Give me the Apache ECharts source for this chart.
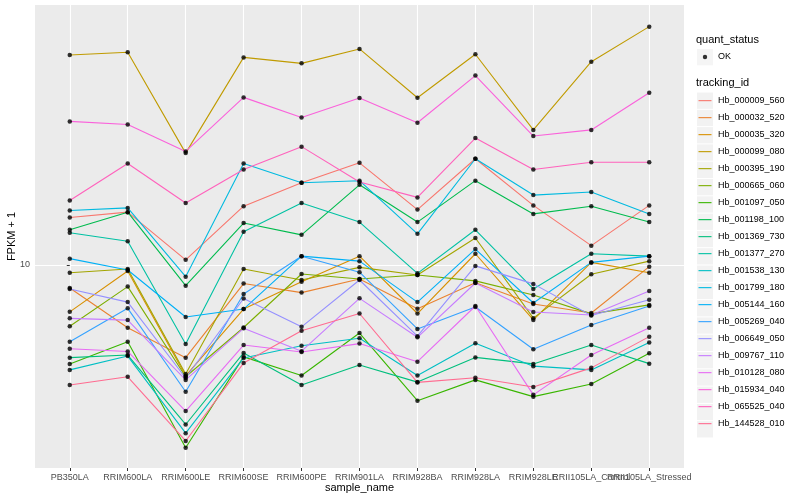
<!DOCTYPE html>
<html><head><meta charset="utf-8">
<script src="https://cdn.jsdelivr.net/npm/echarts@6/dist/echarts.min.js"></script>
<style>html,body{margin:0;padding:0;background:#fff}#c{width:800px;height:500px}</style>
</head><body><div id="c"></div>
<script>
const categories = ['PB350LA','RRIM600LA','RRIM600LE','RRIM600SE','RRIM600PE','RRIM901LA','RRIM928BA','RRIM928LA','RRIM928LE','RRII105LA_Control','RRII105LA_Stressed'];
const yTicks = [10];

const Hb_000009_560 = [14.4, 15.0, 10.4, 15.7, 18.8, 21.9, 15.3, 22.6, 15.8, 11.6, 15.8];
const Hb_000032_520 = [8.38, 6.18, 4.91, 8.67, 8.09, 8.98, 7.15, 8.73, 7.41, 6.92, 9.87];
const Hb_000035_320 = [6.98, 9.55, 4.27, 7.13, 8.79, 10.7, 6.89, 10.9, 6.56, 10.2, 9.42];
const Hb_000099_080 = [50.1, 51.2, 23.6, 49.2, 47.0, 52.5, 36.1, 50.4, 28.2, 47.6, 62.3];
const Hb_000395_190 = [9.42, 9.70, 4.33, 9.70, 8.91, 9.82, 9.26, 12.3, 6.65, 9.31, 10.3];
const Hb_000665_060 = [6.25, 8.47, 4.24, 6.19, 9.33, 8.98, 9.26, 8.85, 7.94, 6.87, 7.36];
const Hb_001097_050 = [4.68, 5.55, 2.46, 4.94, 4.28, 5.93, 3.53, 4.14, 3.64, 4.01, 5.08];
const Hb_001198_100 = [13.1, 15.0, 8.53, 13.8, 12.6, 18.5, 13.9, 19.1, 14.8, 15.7, 13.9];
const Hb_001369_730 = [4.91, 5.01, 2.94, 5.09, 3.98, 4.64, 4.07, 4.92, 4.68, 5.41, 4.69];
const Hb_001377_270 = [12.8, 12.0, 5.45, 12.9, 16.1, 13.9, 9.38, 13.1, 8.32, 10.9, 10.7];
const Hb_001538_130 = [4.47, 4.97, 2.75, 4.90, 5.38, 5.70, 4.28, 5.48, 4.60, 4.47, 5.52];
const Hb_001799_180 = [15.2, 15.5, 9.14, 21.8, 18.8, 19.1, 12.7, 22.6, 17.1, 17.5, 14.8];
const Hb_005144_160 = [10.5, 9.62, 6.71, 7.13, 10.7, 10.3, 7.52, 11.3, 7.47, 10.2, 10.7];
const Hb_005269_040 = [5.55, 7.17, 3.78, 8.00, 10.7, 9.46, 6.12, 7.24, 5.24, 6.31, 7.30];
const Hb_006649_050 = [8.32, 7.52, 4.20, 7.73, 6.22, 8.91, 5.79, 9.93, 8.65, 6.79, 7.66];
const Hb_009767_110 = [6.64, 6.55, 4.14, 6.15, 5.16, 7.74, 5.74, 8.71, 6.97, 6.81, 8.19];
const Hb_010128_080 = [5.26, 5.15, 3.26, 5.41, 5.13, 5.47, 4.76, 7.30, 3.69, 5.01, 6.18];
const Hb_015934_040 = [30.1, 29.4, 23.9, 36.2, 31.0, 36.0, 29.8, 42.8, 26.9, 28.2, 37.5];
const Hb_065525_040 = [16.4, 21.8, 16.1, 20.8, 24.8, 18.9, 16.8, 26.5, 20.8, 22.0, 22.0];
const Hb_144528_010 = [3.98, 4.24, 2.59, 4.71, 6.04, 6.89, 4.06, 4.21, 3.92, 4.54, 5.77];

const trackingIds = ['Hb_000009_560','Hb_000032_520','Hb_000035_320','Hb_000099_080','Hb_000395_190','Hb_000665_060','Hb_001097_050','Hb_001198_100','Hb_001369_730','Hb_001377_270','Hb_001538_130','Hb_001799_180','Hb_005144_160','Hb_005269_040','Hb_006649_050','Hb_009767_110','Hb_010128_080','Hb_015934_040','Hb_065525_040','Hb_144528_010'];
const seriesValues = [Hb_000009_560,Hb_000032_520,Hb_000035_320,Hb_000099_080,Hb_000395_190,Hb_000665_060,Hb_001097_050,Hb_001198_100,Hb_001369_730,Hb_001377_270,Hb_001538_130,Hb_001799_180,Hb_005144_160,Hb_005269_040,Hb_006649_050,Hb_009767_110,Hb_010128_080,Hb_015934_040,Hb_065525_040,Hb_144528_010];
const colors = ['#F8766D','#EA8331','#D89000','#C09B00','#A3A500','#7CAE00','#39B600','#00BB4E','#00BF7D','#00C1A3','#00BFC4','#00BAE0','#00B0F6','#35A2FF','#9590FF','#C77CFF','#E76BF3','#FA62DB','#FF62BC','#FF6C91'];

const FONT = 'Liberation Sans, Arial, sans-serif';
const idx = categories.map((_, i) => i);
const idxMain = idx.filter(i => i !== 9);

const lineSeries = trackingIds.map((id, k) => ({
  name: id, type: 'line', symbol: 'none', silent: true, animation: false,
  data: seriesValues[k].map((v, i) => [i, v]),
  lineStyle: { width: 1.1, color: colors[k] },
  itemStyle: { color: colors[k] },
  z: 2
}));
const points = [];
seriesValues.forEach(arr => arr.forEach((v, i) => points.push([i, v])));

const lineIcon = 'path://M0,0L0,0M16,16L16,16M1.5,7.6L14.5,7.6L14.5,8.7L1.5,8.7Z';
const dotIcon = 'path://M0,0L0,0M16,16L16,16M10.2,8A2.2,2.2,0,1,1,10.2,7.99Z';

const xLabelBase = { color: '#4D4D4D', fontSize: 9, margin: 5.5, hideOverlap: false, showMinLabel: true, showMaxLabel: true, fontFamily: FONT,
  formatter: v => categories[Math.round(v)] };

const chart = echarts.init(document.getElementById('c'), null, { renderer: 'canvas' });
chart.setOption({
  animation: false,
  backgroundColor: '#fff',
  textStyle: { fontFamily: FONT },
  title: [
    { text: 'quant_status', left: 696, top: 34, padding: 0, textStyle: { fontSize: 11, fontWeight: 'normal', color: '#000', fontFamily: FONT } },
    { text: 'tracking_id', left: 696, top: 77, padding: 0, textStyle: { fontSize: 11, fontWeight: 'normal', color: '#000', fontFamily: FONT } }
  ],
  grid: { left: 35, top: 5, right: 116, bottom: 32, show: true, backgroundColor: '#EBEBEB', borderWidth: 0, containLabel: false, outerBoundsMode: 'none' },
  xAxis: [{
    type: 'value', min: -0.6, max: 10.6, position: 'bottom',
    axisLine: { show: false },
    axisTick: { show: true, customValues: idx, length: 3, lineStyle: { color: '#333', width: 1 } },
    axisLabel: Object.assign({ customValues: idxMain }, xLabelBase),
    splitLine: { show: true, lineStyle: { color: '#fff', width: 1.1 } },
    name: 'sample_name', nameLocation: 'middle', nameGap: 14, nameMoveOverlap: false,
    nameTextStyle: { fontSize: 11, color: '#000', fontFamily: FONT }
  }, {
    type: 'value', min: -0.6, max: 10.6, position: 'bottom', offset: 0,
    axisLine: { show: false }, axisTick: { show: false }, splitLine: { show: false },
    axisLabel: Object.assign({ customValues: [9] }, xLabelBase)
  }],
  yAxis: {
    type: 'log', logBase: 10, min: 2.105, max: 73.56,
    axisLine: { show: false },
    axisTick: { show: true, customValues: yTicks, length: 3, lineStyle: { color: '#333', width: 1 } },
    axisLabel: { customValues: yTicks, color: '#4D4D4D', fontSize: 9, margin: 5, fontFamily: FONT },
    splitLine: { show: true, lineStyle: { color: '#fff', width: 1.1 } },
    minorSplitLine: { show: false },
    name: 'FPKM + 1', nameLocation: 'middle', nameGap: 18, nameRotate: 90, nameMoveOverlap: false,
    nameTextStyle: { fontSize: 11, color: '#000', fontFamily: FONT }
  },
  legend: [
    { data: ['OK'], left: 697, top: 49, orient: 'vertical', padding: 0, itemWidth: 16, itemHeight: 16.3, icon: 'rect',
      itemStyle: { color: '#F2F2F2', borderWidth: 0 }, textStyle: { color: 'rgba(0,0,0,0)', fontSize: 9 }, selectedMode: false, z: 1 },
    { data: ['OK'], left: 697, top: 49, orient: 'vertical', padding: 0, itemWidth: 16, itemHeight: 16.3, icon: dotIcon,
      itemStyle: { color: '#000', borderWidth: 0 }, textStyle: { color: '#000', fontSize: 9, fontFamily: FONT }, selectedMode: false, z: 3 },
    { data: trackingIds, left: 697, top: 92.5, orient: 'vertical', padding: 0, itemWidth: 16, itemHeight: 16.3, itemGap: 1, icon: 'rect',
      itemStyle: { color: '#F2F2F2', borderWidth: 0 }, textStyle: { color: 'rgba(0,0,0,0)', fontSize: 9 }, selectedMode: false, z: 1 },
    { data: trackingIds, left: 697, top: 92.5, orient: 'vertical', padding: 0, itemWidth: 16, itemHeight: 16.3, itemGap: 1, icon: lineIcon,
      itemStyle: { borderWidth: 0 }, lineStyle: { width: 0 }, textStyle: { color: '#000', fontSize: 9, fontFamily: FONT }, selectedMode: false, z: 3 }
  ],
  series: lineSeries.concat([{
    name: 'OK', type: 'scatter', data: points, symbol: 'circle', symbolSize: 4.5, silent: true,
    itemStyle: { color: '#000' }, z: 3
  }])
});
</script>
</body></html>
